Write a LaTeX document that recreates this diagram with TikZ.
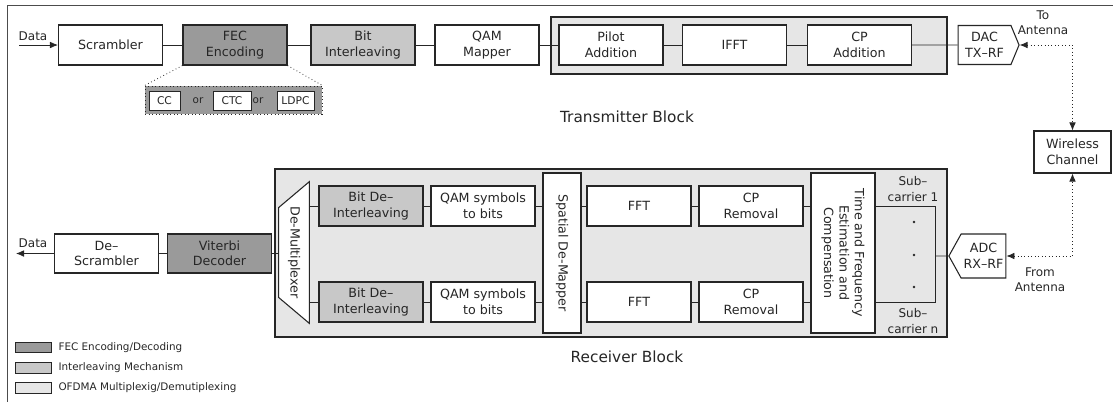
\documentclass[tikz,border=0pt]{standalone}
\usepackage{fontspec}
\setmainfont{DejaVu Sans}
\usepackage{tikz}
\usetikzlibrary{positioning, shapes.symbols, arrows.meta}

\definecolor{fecgray}{HTML}{9A9A9A}
\definecolor{intgray}{HTML}{C8C8C8}
\definecolor{ofdmgray}{HTML}{E6E6E6}

\begin{document}
\begin{tikzpicture}[x=0.75pt, y=-0.75pt, >={Latex[length=6pt, width=5pt]}, line width=0.6pt, color=black!85,
    font=\fontsize{9.5}{11.6}\selectfont,
    blk/.style={draw, fill=white, line width=0.8pt, align=center, minimum width=78pt, minimum height=30pt, inner sep=1pt},
    fec/.style={blk, fill=fecgray},
    ilv/.style={blk, fill=intgray},
    sig/.style={blk, shape=signal, minimum width=45.75pt},
    vert/.style={blk, rotate=-90, minimum width=120pt},
    lbl/.style={align=center, inner sep=1pt, font=\fontsize{9}{11.5}\selectfont},
    big/.style={font=\fontsize{11.5}{14}\selectfont},
    opt/.style={draw, fill=white, line width=0.7pt, minimum height=14.25pt, inner sep=1pt, font=\fontsize{8}{9}\selectfont},
    key/.style={draw, line width=0.7pt, minimum width=27pt, minimum height=8pt, inner sep=0pt},
    keytxt/.style={inner sep=1pt, font=\fontsize{7.8}{9}\selectfont}]
      \useasboundingbox (0,0) rectangle (1114,401);
      \draw[black!70, line width=0.75pt] (7,402) -- (7,5) -- (1113,5);

      % transmitter
      \draw[fill=ofdmgray, line width=0.8pt] (551,17) rectangle (947,74);
      \node[blk]  (Scr)  at (110.5, 45)   {Scrambler};
      \node[fec]  (FEC)  at (235, 45)     {FEC\\Encoding};
      \node[ilv]  (BI)   at (363, 45)     {Bit\\Interleaving};
      \node[blk]  (QM)   at (487, 45)     {QAM\\Mapper};
      \node[blk]  (PA)   at (611, 45)     {Pilot\\Addition};
      \node[blk]  (IFFT) at (734.5, 45)   {IFFT};
      \node[blk]  (CPA)  at (859.5, 45)   {CP\\Addition};
      \node[sig, signal to=east, signal pointer angle=135, minimum height=29.25pt] (DAC) at (984.5, 45) {DAC\\TX--RF};

      \node[draw, dotted, fill=fecgray, line width=0.7pt, minimum width=132.75pt, minimum height=21pt] (Opt) at (233.5, 100) {};
      \draw[dotted] (FEC.south west) -- (Opt.north west);
      \draw[dotted] (FEC.south east) -- (Opt.north east);
      \node[opt, minimum width=23.25pt] (CC)   at (164.5, 100.5) {CC};
      \node[keytxt]                     (Or1)  at (198, 101)     {or};
      \node[opt, minimum width=28.5pt]  (CTC)  at (232, 100.5)   {CTC};
      \node[keytxt]                     (Or2)  at (258, 101)     {or};
      \node[opt, minimum width=27.75pt] (LDPC) at (295.5, 100.5) {LDPC};

      \coordinate (DataIn) at (19, 45);
      \node[lbl] (DataTx) at (33, 36) {Data};
      \draw[->] (DataIn) -- (Scr);
      \draw (Scr) -- (FEC);
      \draw (FEC) -- (BI);
      \draw (BI) -- (QM);
      \draw (QM) -- (PA);
      \draw (PA) -- (IFFT);
      \draw (IFFT) -- (CPA);
      \draw (CPA) -- (DAC);

      \node[big] (TxLbl) at (627, 117) {Transmitter Block};

      % channel
      \node[lbl] (ToAnt) at (1043, 23) {To\\Antenna};
      \node[blk, minimum width=57.75pt, minimum height=31.5pt] (WC) at (1072.5, 152) {Wireless\\Channel};
      \node[sig, signal to=west, signal pointer angle=122, minimum width=42.75pt, minimum height=33pt] (ADC) at (983.5, 256) {ADC\\RX--RF};
      \node[lbl] (FromAnt) at (1040, 280) {From\\Antenna};
      \draw[<->, dotted] (DAC.east) -| (WC.north);
      \draw[<->, dotted] (ADC.east) -| (WC.south);

      % receiver
      \draw[fill=ofdmgray, line width=0.8pt] (275,169) rectangle (947,337);
      \node[blk, minimum height=29.25pt] (DScr) at (106.5, 253.5) {De--\\Scrambler};
      \node[fec, minimum height=29.25pt] (Vit)  at (219.5, 253.5) {Viterbi\\Decoder};
      \coordinate (DataOut) at (16, 253.5);
      \node[lbl] (DataRx) at (33, 243) {Data};
      \draw[->] (DScr) -- (DataOut);
      \draw (Vit) -- (DScr);

      \node[minimum width=22.5pt, minimum height=105.75pt, inner sep=0pt] (Dmx) at (294, 252.5) {};
      \draw[fill=white, line width=0.8pt] (Dmx.north east) -- (Dmx.south east) -- ([yshift=19.5pt]Dmx.south west)
            -- ([yshift=-19.5pt]Dmx.north west) -- cycle;
      \node[rotate=-90] (DmxT) at (Dmx) {De-Multiplexer};
      \draw (Vit) -- (Vit -| Dmx.west);

      \node[vert, minimum height=28.5pt] (Spat) at (562, 253) {Spatial De-Mapper};
      \node[vert, minimum height=48pt]   (TF)   at (843, 253) {Time and Frequency\\Estimation and\\Compensation};

      \node[ilv] (BDI1) at (371, 206) {Bit De--\\Interleaving};
      \node[blk] (QB1)  at (483, 206) {QAM symbols\\to bits};
      \node[blk] (FFT1) at (639, 206) {FFT};
      \node[blk] (CPR1) at (751, 206) {CP\\Removal};
      \node[ilv] (BDI2) at (371, 302) {Bit De--\\Interleaving};
      \node[blk] (QB2)  at (483, 302) {QAM symbols\\to bits};
      \node[blk] (FFT2) at (639, 302) {FFT};
      \node[blk] (CPR2) at (751, 302) {CP\\Removal};

      \draw (Dmx.east |- BDI1) -- (BDI1);
      \draw (Dmx.east |- BDI2) -- (BDI2);
      \draw (BDI1) -- (QB1);
      \draw (BDI2) -- (QB2);
      \draw (QB1) -- (QB1 -| Spat.south);
      \draw (QB2) -- (QB2 -| Spat.south);
      \draw (Spat.north |- FFT1) -- (FFT1);
      \draw (Spat.north |- FFT2) -- (FFT2);
      \draw (FFT1) -- (CPR1);
      \draw (FFT2) -- (CPR2);
      \draw (CPR1) -- (CPR1 -| TF.south);
      \draw (CPR2) -- (CPR2 -| TF.south);

      \coordinate (SCj) at (935, 256);
      \draw (TF.north |- CPR1) -| (SCj) |- (TF.north |- CPR2);
      \draw (SCj) -- (ADC);
      \fill (914, 222) circle (1pt);
      \fill (914, 255) circle (1pt);
      \fill (914, 287) circle (1pt);
      \node[lbl] (SC1) at (913, 189) {Sub--\\carrier 1};
      \node[lbl] (SCn) at (913, 321) {Sub--\\carrier n};

      \node[big] (RxLbl) at (627, 357) {Receiver Block};

      % legend
      \node[key, fill=fecgray]  (K1) at (33, 347.5) {};
      \node[key, fill=intgray]  (K2) at (33, 368)   {};
      \node[key, fill=ofdmgray] (K3) at (33, 388)   {};
      \node[keytxt, right=4pt of K1] (KT1) {FEC Encoding/Decoding};
      \node[keytxt, right=4pt of K2] (KT2) {Interleaving Mechanism};
      \node[keytxt, right=4pt of K3] (KT3) {OFDMA Multiplexig/Demutiplexing};
    \end{tikzpicture}
\end{document}
